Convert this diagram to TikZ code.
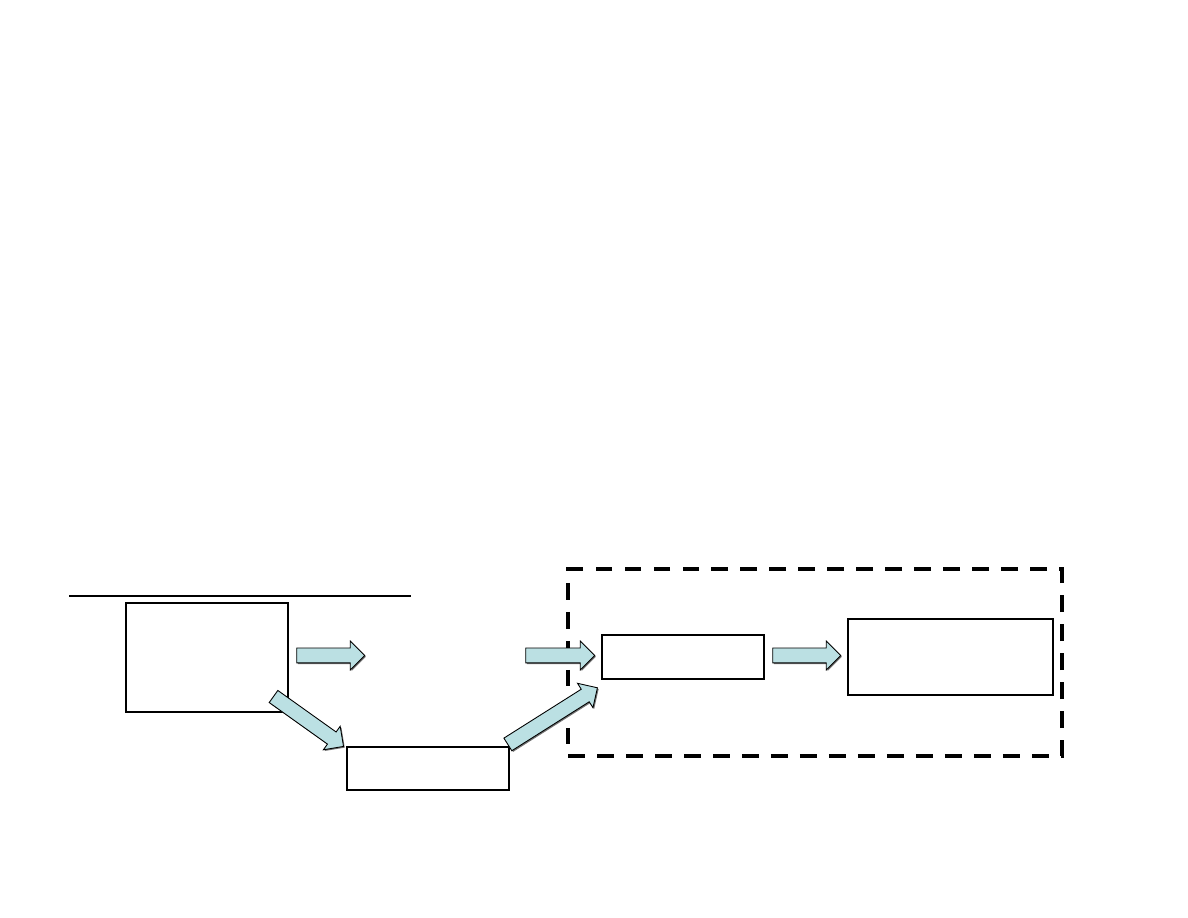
\documentclass[tikz,border=0pt]{standalone}
\usepackage{xcolor}
\usepackage{tikz}
\usetikzlibrary{shapes.arrows,shadows,positioning}
\definecolor{arrowfill}{RGB}{187,224,227}

\begin{document}
\begin{tikzpicture}[x=0.02cm, y=-0.02cm,
  box/.style={draw, line width=1pt, minimum width=3.24cm, inner sep=0pt},
  blockarrow/.style={single arrow, draw, line width=0.5pt, fill=arrowfill,
    inner xsep=0pt, inner ysep=0.14cm, single arrow head extend=0.14cm,
    drop shadow={shadow xshift=0.7pt, shadow yshift=-0.7pt, fill=black!55, opacity=1}}]
  \useasboundingbox (0,0) rectangle (1188,918);

  % Rule
  \draw[line width=0.6pt] (69,596) -- (411,596);

  % Boxes
  \node[box, minimum height=2.18cm] (src) at (207,657.5) {};
  \node[box, minimum height=0.86cm] (low) at (428,768.5) {};
  \node[box, minimum height=0.88cm] (mid) at (683,657) {};
  \node[box, minimum width=4.1cm, minimum height=1.52cm] (dst) at (950.5,657) {};

  % Group
  \node[draw, line width=2.5pt, dash pattern=on 9.5pt off 7pt,
    minimum width=9.88cm, minimum height=3.74cm] (group) at (815,662.5) {};

  % Arrows
  \node[blockarrow, minimum height=1.36cm] (arrA) at (327,655.5) {};
  \node[blockarrow, minimum height=1.38cm] (arrB) at (556.5,655.5) {};
  \node[blockarrow, minimum height=1.36cm] (arrC) at (803,655.5) {};
  \node[blockarrow, minimum height=1.72cm, rotate=-35.5] (arrD) at (305.5,719.3) {};
  \node[blockarrow, minimum height=2.12cm, rotate=32.3] (arrE) at (549.5,718.1) {};
\end{tikzpicture}
\end{document}
